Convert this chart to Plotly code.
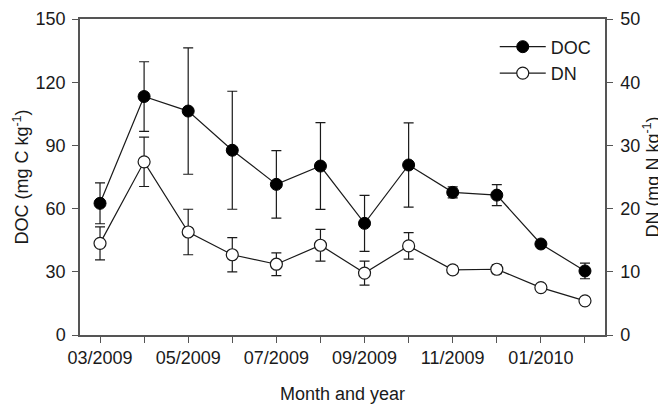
"""DOC and DN by sampling month, with standard errors, on twin y axes."""

import plotly.graph_objects as go

# ---------------------------------------------------------------------------
# Data
# ---------------------------------------------------------------------------

months = [
    "03/2009", "04/2009", "05/2009", "06/2009", "07/2009", "08/2009",
    "09/2009", "10/2009", "11/2009", "12/2009", "01/2010", "02/2010",
]
doc_mean = [62.5, 113.2, 106.3, 87.7, 71.5, 80.2, 53.0, 80.7, 67.7, 66.4, 43.2, 30.4]
doc_err = [9.7, 16.5, 30.0, 28.0, 16.0, 20.6, 13.3, 20.0, 2.6, 5.0, 1.0, 3.7]
dn_mean = [14.5, 27.4, 16.3, 12.7, 11.2, 14.2, 9.8, 14.1, 10.3, 10.4, 7.5, 5.4]
dn_err = [2.6, 3.9, 3.6, 2.7, 1.8, 2.5, 1.9, 2.1, 0.6, 0.7, 0.3, 0.2]

doc_ticks = [0, 30, 60, 90, 120, 150]
dn_ticks = [0, 10, 20, 30, 40, 50]

FONT = "Liberation Sans, Arial, sans-serif"
FS = 18
INK = "#1a1a1a"
AXIS = "#555555"

x_pos = list(range(len(months)))
label_pos = x_pos[::2]
label_text = months[::2]

fig = go.Figure()

fig.add_trace(
    go.Scatter(
        x=x_pos,
        y=doc_mean,
        name="DOC",
        mode="lines+markers",
        line=dict(color=INK, width=1.2),
        marker=dict(color="black", size=12, line=dict(color="black", width=1)),
        error_y=dict(type="data", array=doc_err, color=INK, thickness=1.2, width=5),
        yaxis="y",
    )
)

fig.add_trace(
    go.Scatter(
        x=x_pos,
        y=dn_mean,
        name="DN",
        mode="lines+markers",
        line=dict(color=INK, width=1.2),
        marker=dict(color="white", size=12, line=dict(color=INK, width=1.2)),
        error_y=dict(type="data", array=dn_err, color=INK, thickness=1.2, width=5),
        yaxis="y2",
    )
)

axis_common = dict(
    showgrid=False,
    zeroline=False,
    showline=True,
    linecolor=AXIS,
    linewidth=1.5,
    ticks="outside",
    ticklen=6,
    tickwidth=1.2,
    tickcolor=AXIS,
    automargin=False,
    tickfont=dict(family=FONT, size=FS, color=INK),
)

# page body adds an 8px margin, so the figure is sized to fit the window
fig.update_layout(
    width=658,
    height=397,
    margin=dict(l=72, r=61, t=11, b=70),
    paper_bgcolor="white",
    plot_bgcolor="white",
    font=dict(family=FONT, size=FS, color=INK),
    showlegend=True,
    legend=dict(
        x=0.79,
        y=0.97,
        xanchor="left",
        yanchor="top",
        bgcolor="rgba(0,0,0,0)",
        font=dict(family=FONT, size=FS, color=INK),
        itemwidth=46,
        tracegroupgap=0,
    ),
    xaxis=dict(
        **axis_common,
        range=[-0.454, len(months) - 1 + 0.454],
        tickvals=label_pos,
        ticktext=label_text,
        minor=dict(dtick=1, tick0=0, ticks="outside", ticklen=6, tickwidth=1.2, tickcolor=AXIS),
        mirror=True,
        title=dict(text="Month and year", font=dict(family=FONT, size=FS, color=INK), standoff=20),
    ),
    yaxis=dict(
        **axis_common,
        range=[0, 150],
        tickvals=doc_ticks,
        ticklabelstandoff=3,
        title=dict(text="DOC (mg C kg<sup>-1</sup>)", font=dict(family=FONT, size=FS, color=INK), standoff=2),
    ),
    yaxis2=dict(
        **axis_common,
        range=[0, 50],
        tickvals=dn_ticks,
        ticklabelstandoff=4,
        overlaying="y",
        side="right",
        title=dict(text="DN (mg N kg<sup>-1</sup>)", font=dict(family=FONT, size=FS, color=INK), standoff=4),
    ),
)

fig.write_html("out.html")
